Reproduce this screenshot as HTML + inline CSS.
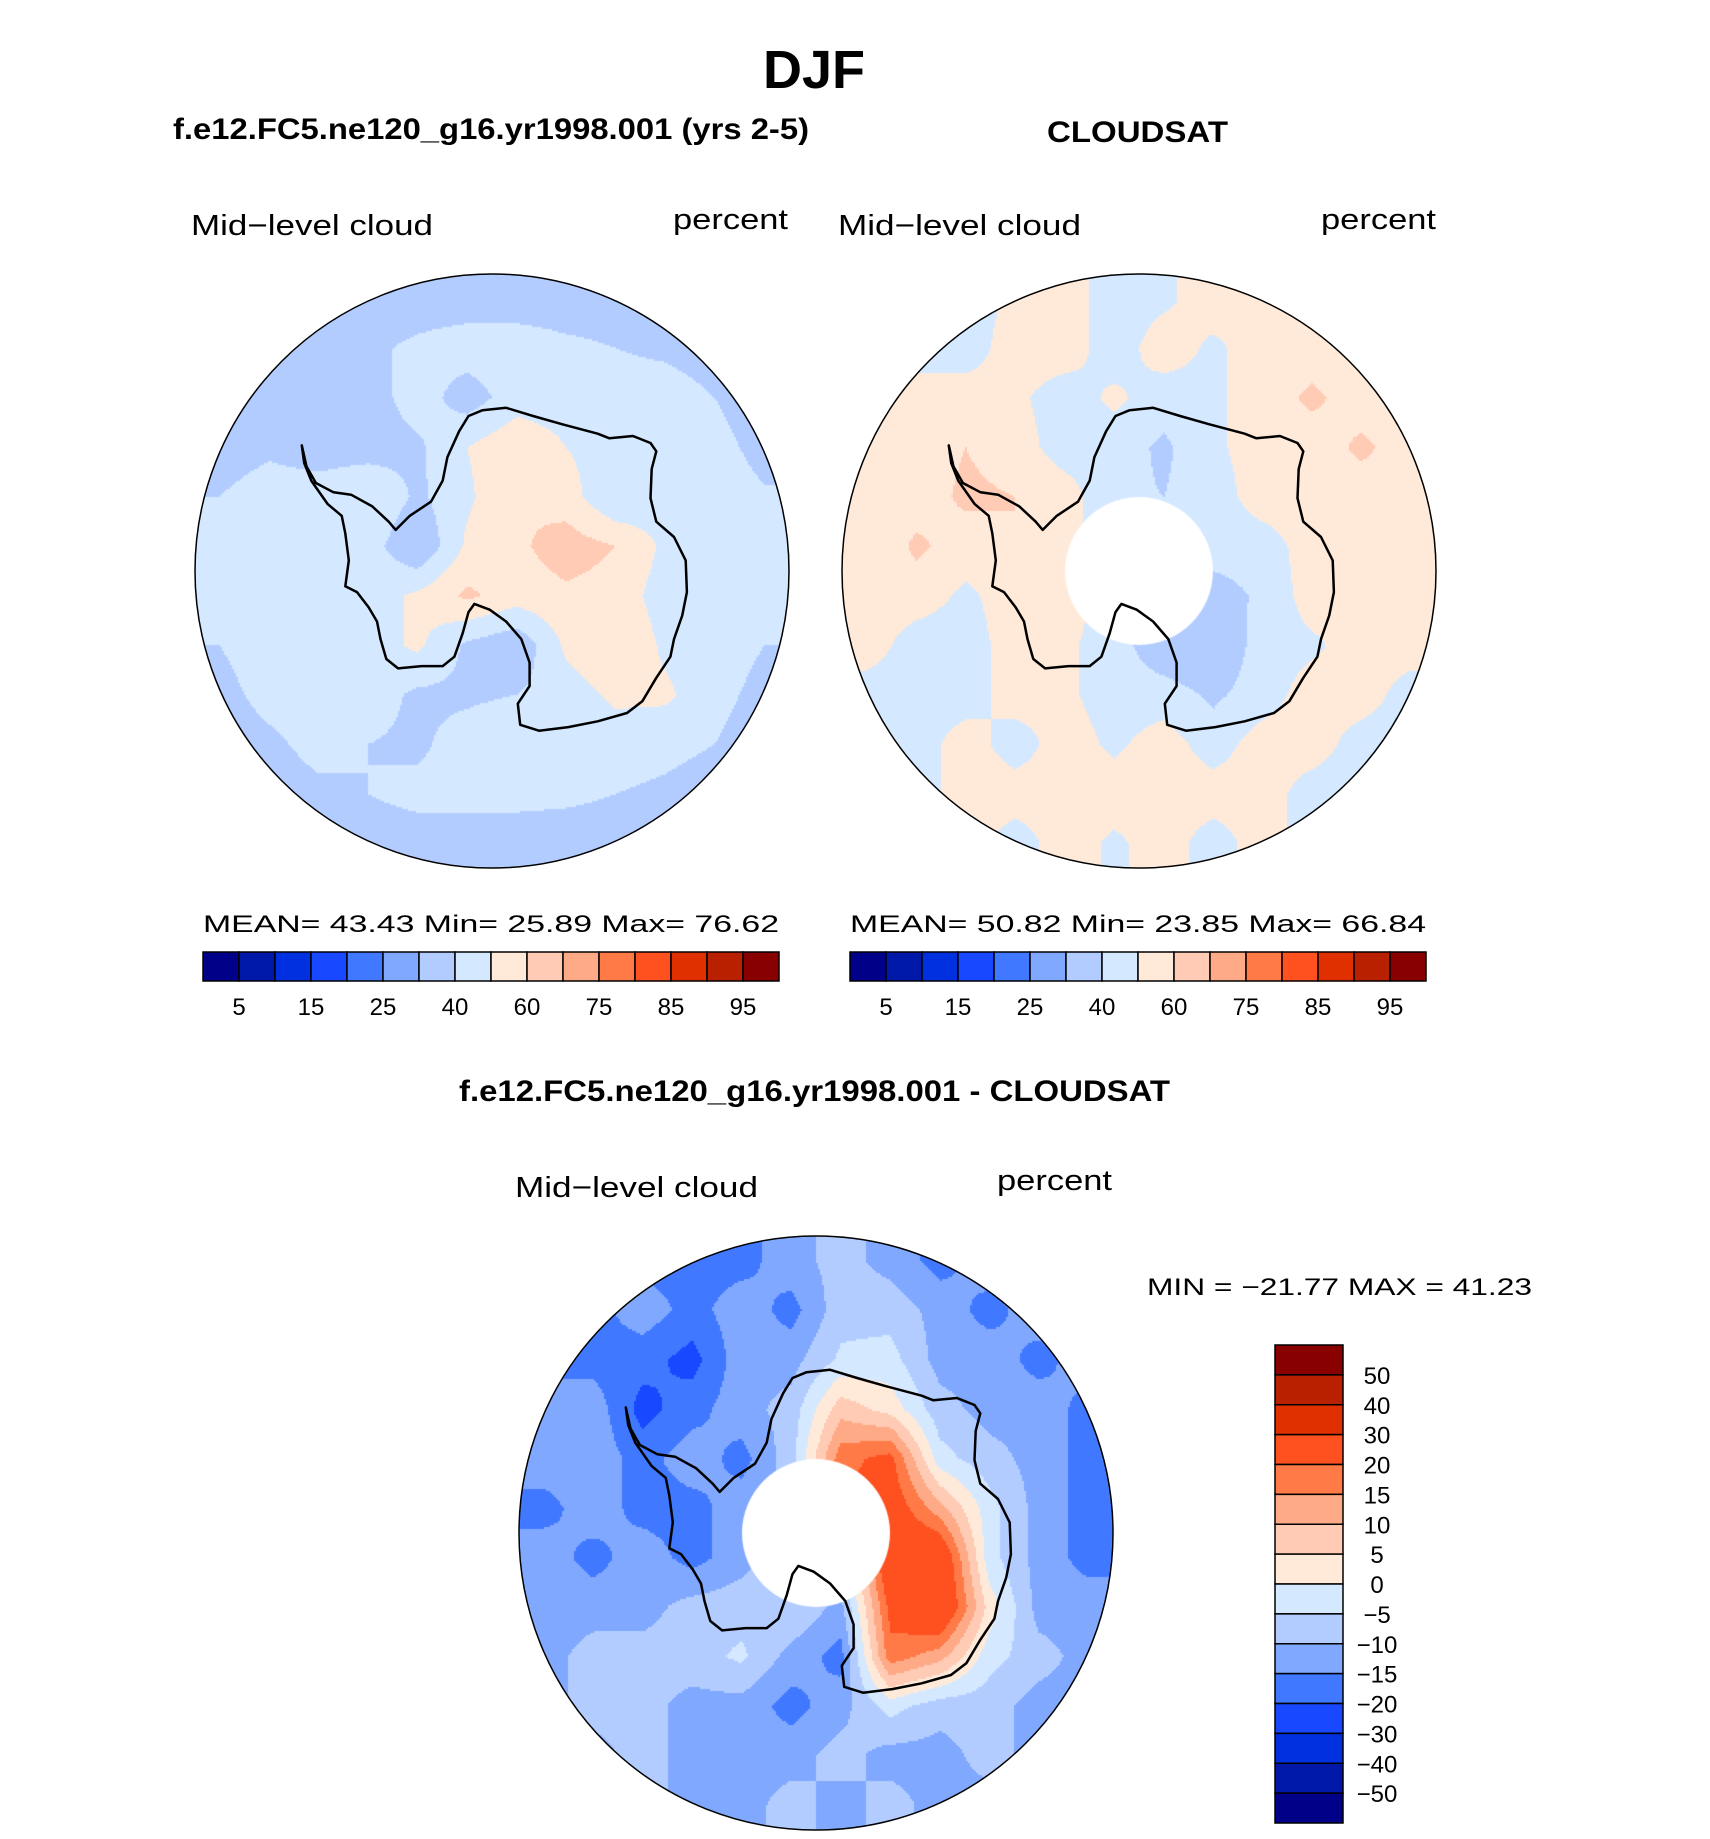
<!DOCTYPE html>
<html><head><meta charset="utf-8">
<style>
html,body{margin:0;padding:0;background:#fff;}
#root{position:relative;width:1710px;height:1839px;overflow:hidden;background:#fff;}
canvas{position:absolute;}
svg{position:absolute;left:0;top:0;}
text{font-family:"Liberation Sans",sans-serif;}
</style></head>
<body>
<div id="root">
<canvas id="c1"></canvas>
<canvas id="c2"></canvas>
<canvas id="c3"></canvas>
<svg id="ov" width="1710" height="1839"></svg>
</div>
<script>
// ---------- data ----------
const absLevels = [5,10,15,20,25,30,40,50,60,70,75,80,85,90,95];
const diffLevels = [-50,-40,-30,-20,-15,-10,-5,0,5,10,15,20,30,40,50];
const absTickLabels = ["5","15","25","40","60","75","85","95"];
const diffTickLabels = ["50","40","30","20","15","10","5","0","\u22125","\u221210","\u221215","\u221220","\u221230","\u221240","\u221250"];
const colors = ["#000088","#0018a8","#0030e0","#1848ff","#4078ff","#80a8ff","#b2ccff","#d4e8ff","#ffeada","#ffcbb4","#ffaa86","#ff7a46","#ff5020","#e03000","#b82000","#880000"];
const modelGrid = [
[35,35,35,35,35,35,35,35,35,35,35,35],
[35,35,35,38,42,45,45,42,40,38,35,35],
[35,35,35,35,45,35,45,45,45,45,40,35],
[35,38,35,35,38,50,58,50,45,45,43,37],
[40,45,45,50,38,48,60,55,40,45,45,41],
[41,45,40,45,30,52,58,65,60,48,45,41],
[41,45,45,45,52,62,55,58,56,45,45,41],
[40,45,45,45,52,38,32,52,60,48,45,40],
[37,43,45,45,38,38,40,45,52,52,43,37],
[35,38,43,40,38,45,50,45,45,43,40,35],
[35,35,38,40,43,43,43,42,40,38,35,35],
[35,35,35,35,35,35,35,35,35,35,35,35]];
const obsGrid = [
[45,45,45,52,55,45,48,55,55,55,55,55],
[45,45,45,55,55,45,55,48,55,55,55,55],
[45,55,55,52,45,52,45,48,55,62,55,55],
[55,55,60,55,45,45,38,48,55,55,62,55],
[55,55,62,60,55,42,40,45,55,55,55,55],
[50,62,55,60,52,45,45,45,45,55,55,55],
[55,55,48,55,55,45,40,35,42,55,55,55],
[55,45,45,55,52,45,32,30,45,48,55,55],
[45,45,45,55,52,45,45,38,45,55,55,45],
[45,45,55,45,55,48,55,45,55,55,45,45],
[45,45,55,55,55,55,55,55,55,45,45,45],
[45,45,55,45,55,48,55,45,55,45,45,45]];
const diffGrid = [
[-17,-17,-17,-17,-17,-12,-8,-12,-17,-12,-12,-12],
[-17,-17,-12,-17,-12,-17,-7,-7,-12,-17,-12,-12],
[-17,-17,-18,-22,-12,-12,-4,-3,-12,-12,-17,-12],
[-12,-12,-22,-17,-12,-8,8,3,-8,-12,-12,-17],
[-12,-12,-17,-12,-17,-7,18,22,-3,-8,-12,-17],
[-17,-12,-17,-17,-12,-8,20,25,12,-3,-12,-17],
[-12,-17,-12,-17,-12,-7,-5,28,28,-3,-12,-17],
[-12,-12,-12,-8,-7,-5,-12,22,30,3,-12,-12],
[-12,-8,-8,-7,-4,-12,-17,18,12,-3,-8,-12],
[-12,-8,-8,-12,-12,-17,-12,-3,-8,-8,-12,-12],
[-12,-12,-8,-12,-12,-12,-8,-12,-12,-8,-12,-12],
[-12,-12,-8,-12,-12,-8,-12,-8,-12,-12,-12,-12]];
const stats1 = ["MEAN=","43.43","Min=","25.89","Max=","76.62"];
const stats2 = ["MEAN=","50.82","Min=","23.85","Max=","66.84"];

// ---------- geometry ----------
const R = 297;
const maps = [
 {id:"c1", cx:492, cy:571, grid:modelGrid, levels:absLevels, hole:false},
 {id:"c2", cx:1139, cy:571, grid:obsGrid, levels:absLevels, hole:true},
 {id:"c3", cx:816, cy:1533, grid:diffGrid, levels:diffLevels, hole:true}
];
const HOLE = 74;
function colorFor(v, lev){ let i=0; while(i<lev.length && v>=lev[i]) i++; return colors[i]; }
function sample(g, u, v){
  const n=g.length;
  let fx=(u+1)/2*n-0.5, fy=(v+1)/2*n-0.5;
  fx=Math.max(0,Math.min(n-1.001,fx)); fy=Math.max(0,Math.min(n-1.001,fy));
  const i=Math.floor(fx), j=Math.floor(fy), a=fx-i, b=fy-j;
  return g[j][i]*(1-a)*(1-b)+g[j][i+1]*a*(1-b)+g[j+1][i]*(1-a)*b+g[j+1][i+1]*a*b;
}
maps.forEach(m=>{
  const c=document.getElementById(m.id);
  c.width=2*R+2; c.height=2*R+2;
  c.style.left=(m.cx-R-1)+"px"; c.style.top=(m.cy-R-1)+"px";
  const ctx=c.getContext("2d");
  ctx.save(); ctx.beginPath(); ctx.arc(R+1,R+1,R,0,Math.PI*2); ctx.clip();
  const st=2;
  for(let y=0;y<2*R+2;y+=st){ for(let x=0;x<2*R+2;x+=st){
    const u=(x+st/2-R-1)/R, v=(y+st/2-R-1)/R;
    ctx.fillStyle=colorFor(sample(m.grid,u,v),m.levels);
    ctx.fillRect(x,y,st,st);
  }}
  ctx.restore();
  if(m.hole){ ctx.fillStyle="#fff"; ctx.beginPath(); ctx.arc(R+1,R+1,HOLE,0,Math.PI*2); ctx.fill(); }
});

// ---------- overlay ----------
const NS="http://www.w3.org/2000/svg";
const ov=document.getElementById("ov");
function el(tag, attrs, txt){ const e=document.createElementNS(NS,tag); for(const k in attrs) e.setAttribute(k,attrs[k]); if(txt!==undefined) e.textContent=txt; ov.appendChild(e); return e; }

const coast=[[258,380],[262,398],[270,412],[285,420],[300,422],[318,432],[332,445],[338,452],[350,440],[368,428],[378,410],[382,390],[392,368],[400,355],[412,350],[432,348],[455,355],[480,362],[510,370],[520,374],[540,372],[555,378],[560,385],[556,400],[555,425],[560,445],[575,458],[585,478],[586,505],[582,525],[575,545],[572,560],[560,578],[548,598],[535,608],[510,615],[485,620],[460,623],[444,618],[442,600],[452,585],[452,565],[445,545],[432,530],[418,520],[405,515],[400,522],[395,540],[388,560],[378,568],[360,568],[340,570],[330,562],[325,545],[322,530],[315,518],[305,505],[295,500],[298,478],[295,455],[292,440],[280,430],[266,410],[260,395]];
const sc=R/253;
maps.forEach((m,k)=>{
  const d=coast.map((p,i)=>(i?"L":"M")+(m.cx+(p[0]-420)*sc).toFixed(1)+" "+(m.cy+(p[1]-487)*sc).toFixed(1)).join(" ")+"Z";
  const p=el("path",{d:d,fill:"none",stroke:"#000","stroke-width":2.5,"stroke-linejoin":"round"});
  
  
  const c=el("circle",{cx:m.cx,cy:m.cy,r:R,fill:"none",stroke:"#000","stroke-width":1.5});
  
  
});

function txt(x,y,s,size,opts){
  const a={x:x,y:y,"font-size":size,fill:"#000"};
  Object.assign(a,opts||{});
  return el("text",a,s);
}
let t;
t=txt(814,88,"DJF",54,{"font-weight":"bold","text-anchor":"middle"});
 
t=txt(173,139,"f.e12.FC5.ne120_g16.yr1998.001 (yrs 2-5)",30,{"font-weight":"bold",textLength:636,lengthAdjust:"spacingAndGlyphs"});
 
t=txt(1047,142,"CLOUDSAT",30,{"font-weight":"bold",textLength:181,lengthAdjust:"spacingAndGlyphs"});
 
t=txt(459,1101,"f.e12.FC5.ne120_g16.yr1998.001 - CLOUDSAT",30,{"font-weight":"bold",textLength:711,lengthAdjust:"spacingAndGlyphs"});
 

const varLbl=[[191,235,433,673,229,788],[838,235,1081,1321,229,1436],[515,1197,758,997,1190,1112]];
varLbl.forEach(v=>{
  t=txt(v[0],v[1],"Mid\u2212level  cloud",29,{textLength:v[2]-v[0],lengthAdjust:"spacingAndGlyphs"});
   
  t=txt(v[3],v[4],"percent",29,{textLength:v[5]-v[3],lengthAdjust:"spacingAndGlyphs"});
   
});

function hbar(x0,x1,statArr){
  t=txt(x0,932,statArr[0]+"   "+statArr[1]+"   "+statArr[2]+"   "+statArr[3]+"   "+statArr[4]+"   "+statArr[5],24,{textLength:x1-x0,lengthAdjust:"spacingAndGlyphs"});
   
  const w=(x1-x0)/colors.length;
  colors.forEach((c,i)=>{
    const r=el("rect",{x:x0+i*w,y:952,width:w,height:29,fill:c,stroke:"#000","stroke-width":1.5});
    
    
  });
  absTickLabels.forEach((s,j)=>{
    const tt=txt(x0+(2*j+1)*w,1015,s,24,{"text-anchor":"middle"});
    
    
  });
}
hbar(203,779,stats1);
hbar(850,1426,stats2);

t=txt(1147,1295,"MIN  =  \u221221.77  MAX  =    41.23",24,{textLength:385,lengthAdjust:"spacingAndGlyphs"});
 
const vy0=1345, vy1=1823, vh=(vy1-vy0)/colors.length;
colors.slice().reverse().forEach((c,i)=>{
  const r=el("rect",{x:1275,y:vy0+i*vh,width:68,height:vh,fill:c,stroke:"#000","stroke-width":1.5});
  
  
});
diffTickLabels.forEach((s,j)=>{
  const tt=txt(1377,vy0+(j+1)*vh+9,s,24,{"text-anchor":"middle"});
  
  
});
</script>
</body></html>
